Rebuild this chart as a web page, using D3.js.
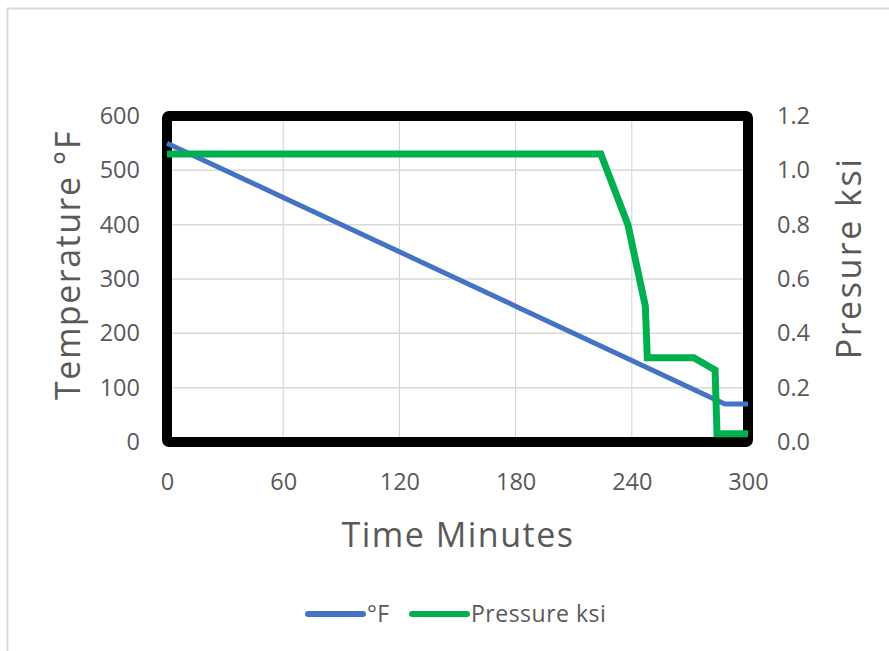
<!DOCTYPE html>
<html>
<head>
<meta charset="utf-8">
<script src="https://cdn.jsdelivr.net/npm/d3@7"></script>
<style>
  body { margin: 0; background: #fff; }
  text { font-family: "Open Sans", sans-serif; fill: #595959; }
</style>
</head>
<body>
<svg id="chart"></svg>
<script>
const width = 889;
const height = 651;
const margin = { top: 116, right: 141, bottom: 209, left: 167 };

// Temperature (°F) vs time (minutes)
const tempMinutes = [0, 60, 120, 180, 240, 288, 300];
const tempValues = [550, 450, 350, 250, 150, 70, 70];

// Pressure (ksi) vs time (minutes)
const pressMinutes = [0, 224, 238, 247, 248, 272, 283, 284, 300];
const pressValues = [1.06, 1.06, 0.8, 0.5, 0.31, 0.31, 0.265, 0.03, 0.03];

const xTicks = [0, 60, 120, 180, 240, 300];
const tempTicks = [0, 100, 200, 300, 400, 500, 600];
const pressTicks = [0, 0.2, 0.4, 0.6, 0.8, 1.0, 1.2];

const svg = d3.select("#chart")
              .attr("width", width)
              .attr("height", height);

// chart outline
svg.append("rect")
   .attr("x", 7.5).attr("y", 8.5)
   .attr("width", 900).attr("height", 700)
   .attr("fill", "none")
   .attr("stroke", "#d9d9d9")
   .attr("stroke-width", 2);

const x = d3.scaleLinear().domain([0, 300]).range([margin.left, width - margin.right]);
const yT = d3.scaleLinear().domain([0, 600]).range([height - margin.bottom, margin.top]);
const yP = d3.scaleLinear().domain([0, 1.2]).range([height - margin.bottom, margin.top]);

// grid
svg.append("g")
   .selectAll("line.v")
   .data(xTicks.slice(1, -1))
   .join("line")
   .attr("x1", d => x(d)).attr("x2", d => x(d))
   .attr("y1", yT(600)).attr("y2", yT(0))
   .attr("stroke", "#d0d0d0").attr("stroke-width", 1);

svg.append("g")
   .selectAll("line.h")
   .data(tempTicks.slice(1, -1))
   .join("line")
   .attr("x1", x(0)).attr("x2", x(300))
   .attr("y1", d => yT(d)).attr("y2", d => yT(d))
   .attr("stroke", "#d9d9d9").attr("stroke-width", 1.5);

// axes (labels only)
const xAxis = svg.append("g")
   .attr("transform", `translate(0, ${yT(0)})`)
   .call(d3.axisBottom(x).tickValues(xTicks).tickSize(0).tickPadding(31));

const leftAxis = svg.append("g")
   .attr("transform", `translate(${x(0)}, 0)`)
   .call(d3.axisLeft(yT).tickValues(tempTicks).tickSize(0).tickPadding(27));

const rightAxis = svg.append("g")
   .attr("transform", `translate(${x(300)}, 0)`)
   .call(d3.axisRight(yP).tickValues(pressTicks).tickFormat(d3.format(".1f")).tickSize(0).tickPadding(29));

[xAxis, leftAxis, rightAxis].forEach(g => {
  g.attr("font-family", null);
  g.select(".domain").remove();
  g.selectAll("text").attr("font-size", 23.5).attr("fill", "#595959");
});

// plot frame
svg.append("rect")
   .attr("x", x(0)).attr("y", yT(600))
   .attr("width", x(300) - x(0)).attr("height", yT(0) - yT(600))
   .attr("fill", "none")
   .attr("stroke", "#000")
   .attr("stroke-width", 10)
   .attr("rx", 2);

// series
const tempLine = d3.line().x((d, i) => x(tempMinutes[i])).y(d => yT(d));
const pressLine = d3.line().x((d, i) => x(pressMinutes[i])).y(d => yP(d));

svg.append("path")
   .attr("d", tempLine(tempValues))
   .attr("fill", "none")
   .attr("stroke", "#4472c4")
   .attr("stroke-width", 5);

svg.append("path")
   .attr("d", pressLine(pressValues))
   .attr("fill", "none")
   .attr("stroke", "#00b050")
   .attr("stroke-width", 7);

// axis titles
svg.append("text")
   .attr("x", 458).attr("y", 547)
   .attr("text-anchor", "middle")
   .attr("font-size", 34)
   .attr("letter-spacing", 1.5)
   .text("Time Minutes");

svg.append("text")
   .attr("transform", "translate(80, 265) rotate(-90)")
   .attr("text-anchor", "middle")
   .attr("font-size", 34)
   .attr("letter-spacing", 1.5)
   .text("Temperature °F");

svg.append("text")
   .attr("transform", "translate(861, 258) rotate(-90)")
   .attr("text-anchor", "middle")
   .attr("font-size", 34)
   .attr("letter-spacing", 2.5)
   .text("Presure ksi");

// legend
const legendItems = [
  { label: "°F", color: "#4472c4", x: 308 },
  { label: "Pressure ksi", color: "#00b050", x: 412 }
];
const legend = svg.append("g").attr("id", "legend");
legendItems.forEach(item => {
  legend.append("line")
        .attr("x1", item.x).attr("x2", item.x + 55)
        .attr("y1", 614).attr("y2", 614)
        .attr("stroke", item.color)
        .attr("stroke-width", 6)
        .attr("stroke-linecap", "round");
  legend.append("text")
        .attr("x", item.x + 59).attr("y", 622)
        .attr("font-size", 23)
        .attr("letter-spacing", 0.5)
        .text(item.label);
});
</script>
</body>
</html>
